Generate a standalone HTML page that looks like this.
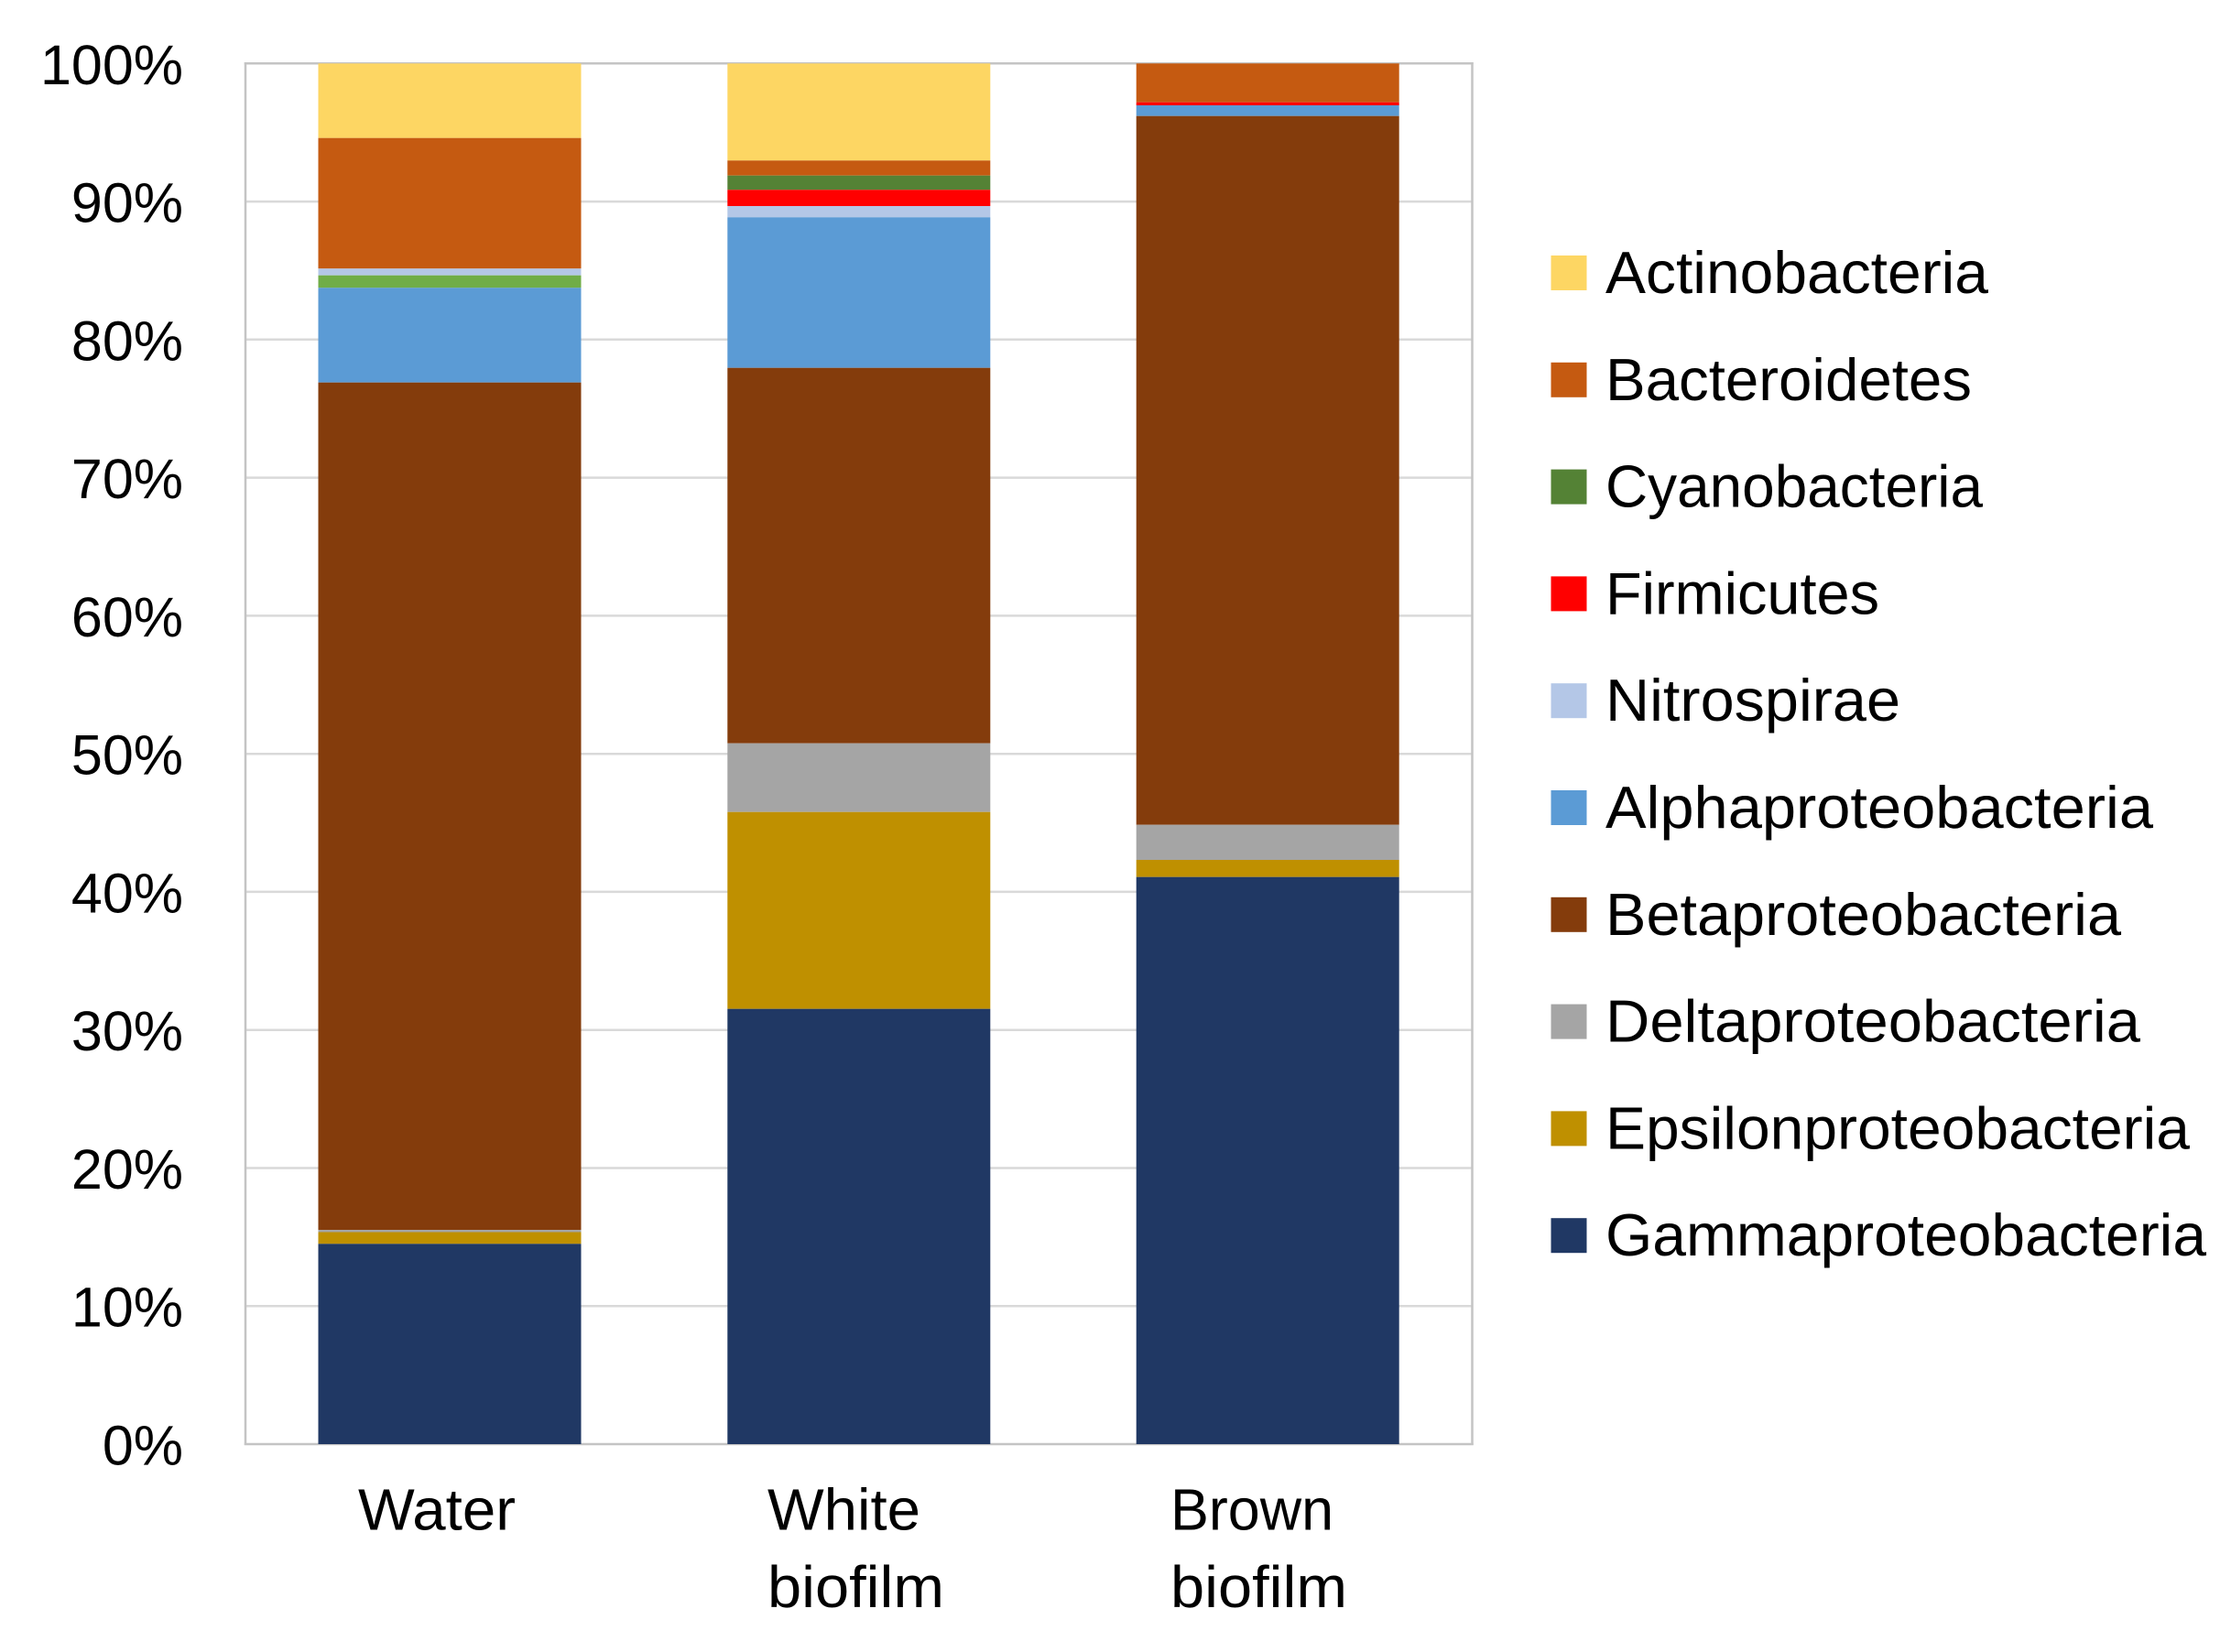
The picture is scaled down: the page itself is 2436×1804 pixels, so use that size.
<!DOCTYPE html>
<html>
<head>
<meta charset="utf-8">
<style>
  html, body { margin: 0; padding: 0; background: #ffffff; }
  svg { display: block; }
  text { font-family: "Liberation Sans", Arial, sans-serif; fill: #000; }
</style>
</head>
<body>
<svg width="2436" height="1804" viewBox="0 0 2436 1804" xmlns="http://www.w3.org/2000/svg">
  <rect x="0" y="0" width="2436" height="1804" fill="#ffffff"/>

  <!-- gridlines -->
  <g stroke="#d9d9d9" stroke-width="2.5">
    <line x1="268" y1="69.3" x2="1607.5" y2="69.3"/>
    <line x1="268" y1="220.1" x2="1607.5" y2="220.1"/>
    <line x1="268" y1="370.8" x2="1607.5" y2="370.8"/>
    <line x1="268" y1="521.6" x2="1607.5" y2="521.6"/>
    <line x1="268" y1="672.4" x2="1607.5" y2="672.4"/>
    <line x1="268" y1="823.2" x2="1607.5" y2="823.2"/>
    <line x1="268" y1="973.9" x2="1607.5" y2="973.9"/>
    <line x1="268" y1="1124.7" x2="1607.5" y2="1124.7"/>
    <line x1="268" y1="1275.5" x2="1607.5" y2="1275.5"/>
    <line x1="268" y1="1426.2" x2="1607.5" y2="1426.2"/>
  </g>
  <!-- plot frame -->
  <g stroke="#c4c4c4" stroke-width="2.5" fill="none">
    <line x1="268" y1="68" x2="268" y2="1578"/>
    <line x1="1607.5" y1="68" x2="1607.5" y2="1578"/>
    <line x1="266.8" y1="1577" x2="1608.7" y2="1577"/>
    <line x1="266.8" y1="69.3" x2="1608.7" y2="69.3"/>
  </g>

  <!-- Bar 1: Water -->
  <g>
    <rect x="347.5" y="69.3" width="287" height="81.4" fill="#FDD663"/>
    <rect x="347.5" y="150.7" width="287" height="142.6" fill="#C55A11"/>
    <rect x="347.5" y="293.3" width="287" height="7.4" fill="#B4C7E7"/>
    <rect x="347.5" y="300.7" width="287" height="13.6" fill="#70AD47"/>
    <rect x="347.5" y="314.3" width="287" height="103.4" fill="#5B9BD5"/>
    <rect x="347.5" y="417.7" width="287" height="925.3" fill="#843C0C"/>
    <rect x="347.5" y="1343" width="287" height="2.5" fill="#A5A5A5"/>
    <rect x="347.5" y="1345.5" width="287" height="12.8" fill="#BF9000"/>
    <rect x="347.5" y="1358.3" width="287" height="218.7" fill="#203864"/>
  </g>

  <!-- Bar 2: White biofilm -->
  <g>
    <rect x="794.3" y="69.3" width="287" height="106" fill="#FDD663"/>
    <rect x="794.3" y="175.3" width="287" height="16.4" fill="#C55A11"/>
    <rect x="794.3" y="191.7" width="287" height="15.6" fill="#548235"/>
    <rect x="794.3" y="207.3" width="287" height="17.7" fill="#FF0000"/>
    <rect x="794.3" y="225" width="287" height="12.3" fill="#B4C7E7"/>
    <rect x="794.3" y="237.3" width="287" height="164.4" fill="#5B9BD5"/>
    <rect x="794.3" y="401.7" width="287" height="410" fill="#843C0C"/>
    <rect x="794.3" y="811.7" width="287" height="75" fill="#A5A5A5"/>
    <rect x="794.3" y="886.7" width="287" height="215" fill="#BF9000"/>
    <rect x="794.3" y="1101.7" width="287" height="475.3" fill="#203864"/>
  </g>

  <!-- Bar 3: Brown biofilm -->
  <g>
    <rect x="1240.7" y="69.3" width="287" height="42.4" fill="#C55A11"/>
    <rect x="1240.7" y="111.7" width="287" height="3.3" fill="#FF0000"/>
    <rect x="1240.7" y="115" width="287" height="11.7" fill="#5B9BD5"/>
    <rect x="1240.7" y="126.7" width="287" height="774" fill="#843C0C"/>
    <rect x="1240.7" y="900.7" width="287" height="38.3" fill="#A5A5A5"/>
    <rect x="1240.7" y="939" width="287" height="18.7" fill="#BF9000"/>
    <rect x="1240.7" y="957.7" width="287" height="619.3" fill="#203864"/>
  </g>

  <!-- Y tick labels -->
  <g font-size="61" text-anchor="end">
    <text x="200" y="91.8">100%</text>
    <text x="200" y="242.6">90%</text>
    <text x="200" y="393.3">80%</text>
    <text x="200" y="544.1">70%</text>
    <text x="200" y="694.9">60%</text>
    <text x="200" y="845.7">50%</text>
    <text x="200" y="996.4">40%</text>
    <text x="200" y="1147.2">30%</text>
    <text x="200" y="1298">20%</text>
    <text x="200" y="1448.7">10%</text>
    <text x="200" y="1599.5">0%</text>
  </g>

  <!-- Category labels -->
  <g font-size="64">
    <text x="391" y="1670.5" textLength="172" lengthAdjust="spacingAndGlyphs">Water</text>
    <text x="838" y="1670.7" textLength="167" lengthAdjust="spacingAndGlyphs">White</text>
    <text x="838" y="1755" textLength="193" lengthAdjust="spacingAndGlyphs">biofilm</text>
    <text x="1278" y="1670.7" textLength="178" lengthAdjust="spacingAndGlyphs">Brown</text>
    <text x="1278" y="1755" textLength="193" lengthAdjust="spacingAndGlyphs">biofilm</text>
  </g>

  <!-- Legend -->
  <g>
    <rect x="1693.5" y="279" width="39" height="38" fill="#FDD663"/>
    <rect x="1693.5" y="395.8" width="39" height="38" fill="#C55A11"/>
    <rect x="1693.5" y="512.6" width="39" height="38" fill="#548235"/>
    <rect x="1693.5" y="629.4" width="39" height="38" fill="#FF0000"/>
    <rect x="1693.5" y="746.2" width="39" height="38" fill="#B4C7E7"/>
    <rect x="1693.5" y="863" width="39" height="38" fill="#5B9BD5"/>
    <rect x="1693.5" y="979.8" width="39" height="38" fill="#843C0C"/>
    <rect x="1693.5" y="1096.6" width="39" height="38" fill="#A5A5A5"/>
    <rect x="1693.5" y="1213.4" width="39" height="38" fill="#BF9000"/>
    <rect x="1693.5" y="1330.2" width="39" height="38" fill="#203864"/>
  </g>
  <g font-size="65">
    <text x="1753" y="320" textLength="418" lengthAdjust="spacingAndGlyphs">Actinobacteria</text>
    <text x="1753" y="436.8" textLength="400" lengthAdjust="spacingAndGlyphs">Bacteroidetes</text>
    <text x="1753" y="553.6" textLength="412" lengthAdjust="spacingAndGlyphs">Cyanobacteria</text>
    <text x="1753" y="670.4" textLength="299" lengthAdjust="spacingAndGlyphs">Firmicutes</text>
    <text x="1753" y="787.2" textLength="322" lengthAdjust="spacingAndGlyphs">Nitrospirae</text>
    <text x="1753" y="904" textLength="598" lengthAdjust="spacingAndGlyphs">Alphaproteobacteria</text>
    <text x="1753" y="1020.8" textLength="563" lengthAdjust="spacingAndGlyphs">Betaproteobacteria</text>
    <text x="1753" y="1137.6" textLength="584" lengthAdjust="spacingAndGlyphs">Deltaproteobacteria</text>
    <text x="1753" y="1254.4" textLength="638" lengthAdjust="spacingAndGlyphs">Epsilonproteobacteria</text>
    <text x="1753" y="1371.2" textLength="656" lengthAdjust="spacingAndGlyphs">Gammaproteobacteria</text>
  </g>
</svg>
</body>
</html>
